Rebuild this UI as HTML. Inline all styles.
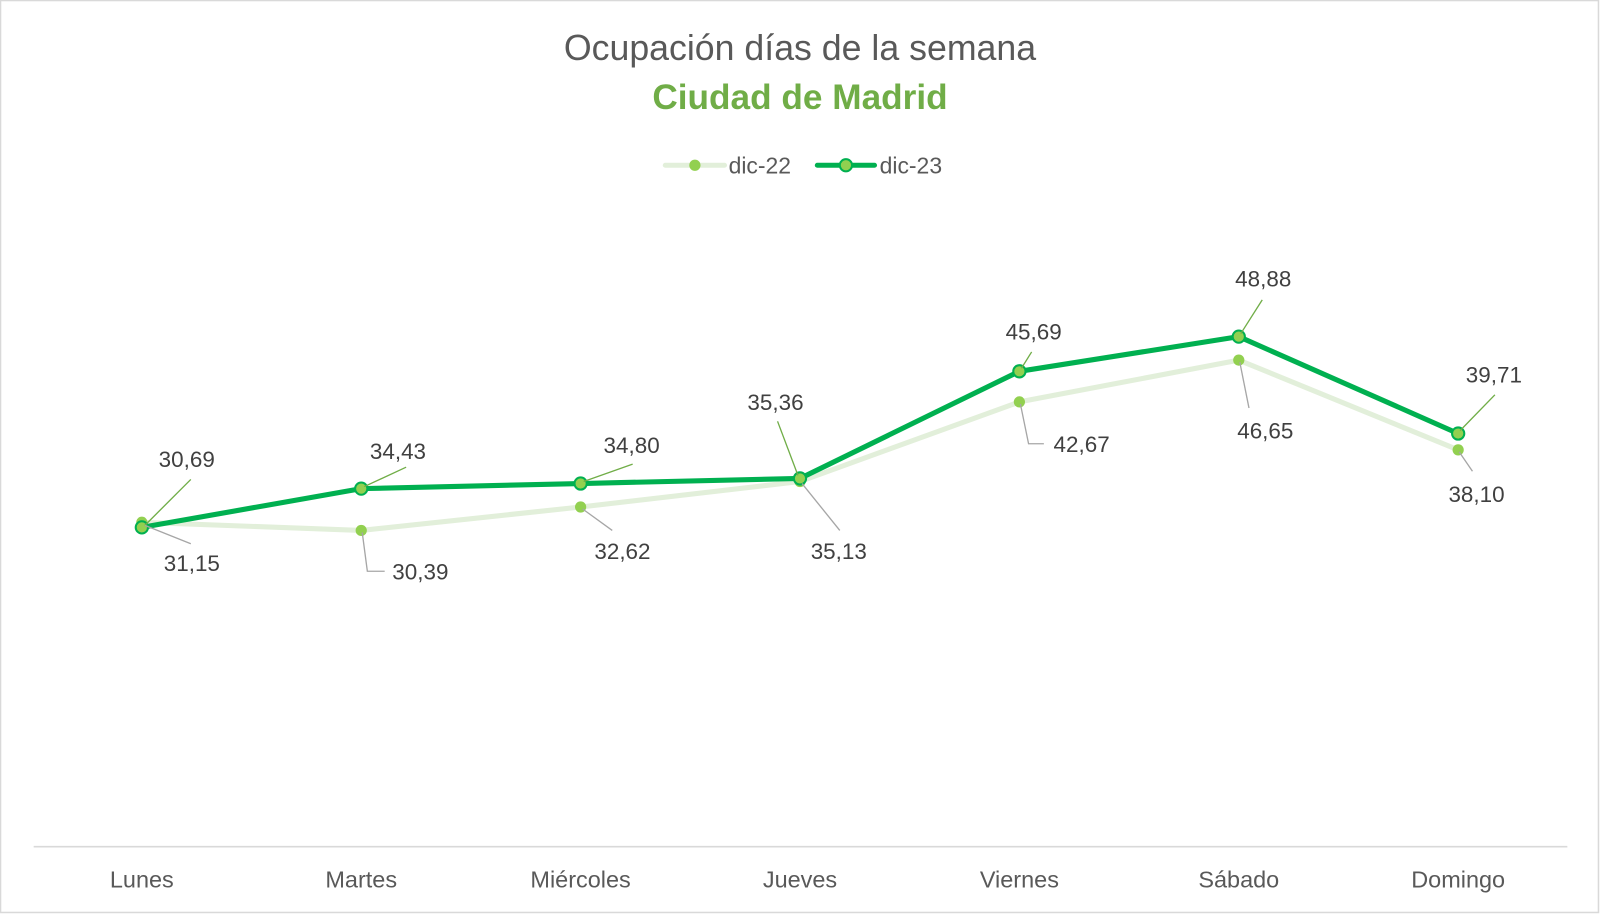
<!DOCTYPE html>
<html><head><meta charset="utf-8"><style>
html,body{margin:0;padding:0;background:#fff;}
svg{display:block;}
text{font-family:"Liberation Sans",sans-serif;}
</style></head><body>
<svg width="1600" height="914" viewBox="0 0 1568 896" preserveAspectRatio="none" xmlns="http://www.w3.org/2000/svg">
<rect x="0.5" y="0.5" width="1566" height="894" fill="#fff" stroke="#d9d9d9" stroke-width="1.5"/>
<text x="784" y="59" text-anchor="middle" font-size="35" fill="#595959">Ocupación días de la semana</text>
<text x="784" y="107" text-anchor="middle" font-size="34.5" font-weight="bold" fill="#70ad47">Ciudad de Madrid</text>
<!-- legend -->
<line x1="652" y1="162" x2="710" y2="162" stroke="#e2efda" stroke-width="5" stroke-linecap="round"/>
<circle cx="681" cy="162" r="5.5" fill="#92d050"/>
<text x="714" y="170" font-size="22.5" fill="#595959">dic-22</text>
<line x1="801" y1="162" x2="857" y2="162" stroke="#00b050" stroke-width="5" stroke-linecap="round"/>
<circle cx="829" cy="162" r="6" fill="#92d050" stroke="#00b050" stroke-width="2"/>
<text x="862" y="170" font-size="22.5" fill="#595959">dic-23</text>
<!-- axis -->
<line x1="33" y1="830" x2="1536" y2="830" stroke="#d9d9d9" stroke-width="1.5"/>
<g font-size="23" fill="#595959" text-anchor="middle">
<text x="139" y="870">Lunes</text><text x="354" y="870">Martes</text><text x="569" y="870">Miércoles</text><text x="784" y="870">Jueves</text><text x="999" y="870">Viernes</text><text x="1214" y="870">Sábado</text><text x="1429" y="870">Domingo</text>
</g>
<!-- dic-22 -->
<polyline points="139,512 354,520 569,497 784,472 999,394 1214,353 1429,441" fill="none" stroke="#e2efda" stroke-width="5" stroke-linejoin="round"/>
<g fill="#92d050">
<circle cx="139" cy="512" r="5.5"/><circle cx="354" cy="520" r="5.5"/><circle cx="569" cy="497" r="5.5"/><circle cx="784" cy="472" r="5.5"/><circle cx="999" cy="394" r="5.5"/><circle cx="1214" cy="353" r="5.5"/><circle cx="1429" cy="441" r="5.5"/>
</g>
<!-- dic-23 -->
<polyline points="139,517 354,479 569,474 784,469 999,364 1214,330 1429,425" fill="none" stroke="#00b050" stroke-width="5" stroke-linejoin="round"/>
<g fill="#92d050" stroke="#00b050" stroke-width="2">
<circle cx="139" cy="517" r="6"/><circle cx="354" cy="479" r="6"/><circle cx="569" cy="474" r="6"/><circle cx="784" cy="469" r="6"/><circle cx="999" cy="364" r="6"/><circle cx="1214" cy="330" r="6"/><circle cx="1429" cy="425" r="6"/>
</g>
<!-- leader lines -->
<g stroke="#70ad47" stroke-width="1.3" fill="none">
<line x1="142" y1="515" x2="187" y2="470"/>
<line x1="357" y1="477" x2="398" y2="458"/>
<line x1="572" y1="472" x2="620" y2="455"/>
<line x1="782" y1="466" x2="762" y2="413"/>
<line x1="1001" y1="361" x2="1011" y2="345"/>
<line x1="1216" y1="327" x2="1237" y2="294"/>
<line x1="1431" y1="422" x2="1465" y2="387"/>
</g>
<g stroke="#a6a6a6" stroke-width="1.3" fill="none">
<line x1="142" y1="515" x2="187" y2="533"/>
<polyline points="355,522 360,560 377,560"/>
<line x1="571" y1="499" x2="600" y2="520"/>
<line x1="786" y1="474" x2="823" y2="520"/>
<polyline points="1000,396 1008,435 1023,435"/>
<line x1="1215" y1="355" x2="1224" y2="400"/>
<line x1="1430" y1="443" x2="1443" y2="462"/>
</g>
<g font-size="22" fill="#404040" text-anchor="middle">
<text x="183" y="458">30,69</text><text x="188" y="560">31,15</text>
<text x="390" y="450">34,43</text><text x="412" y="568">30,39</text>
<text x="619" y="444">34,80</text><text x="610" y="548">32,62</text>
<text x="760" y="402">35,36</text><text x="822" y="548">35,13</text>
<text x="1013" y="333">45,69</text><text x="1060" y="443">42,67</text>
<text x="1238" y="281">48,88</text><text x="1240" y="430">46,65</text>
<text x="1464" y="375">39,71</text><text x="1447" y="492">38,10</text>
</g>
</svg>
</body></html>
